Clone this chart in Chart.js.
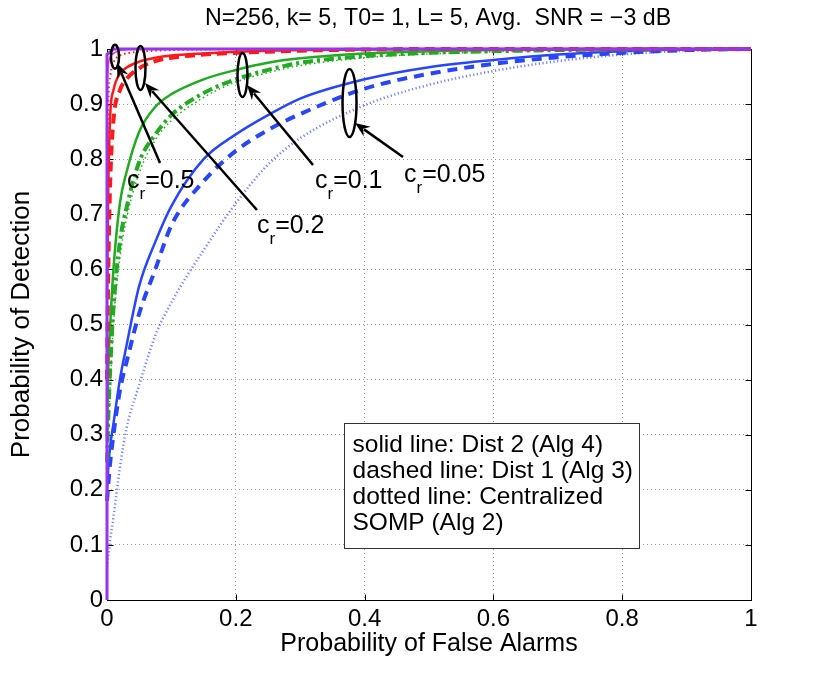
<!DOCTYPE html>
<html>
<head>
<meta charset="utf-8">
<script src="https://cdn.jsdelivr.net/npm/chart.js@4.4.0/dist/chart.umd.min.js"></script>
<style>
  html, body { margin: 0; padding: 0; background: #fff; }
  #wrap { width: 830px; height: 674px; position: relative; }
</style>
</head>
<body>
<div id="wrap"><canvas id="roc"></canvas></div>
<script>
// Eje comun de probabilidad de falsa alarma
const pfa = [0, 0.002, 0.005, 0.01, 0.02, 0.03, 0.05, 0.075, 0.1, 0.15, 0.2, 0.25, 0.3, 0.4, 0.5, 0.6, 0.7, 0.8, 0.9, 1];

// c_r = 0.05 (azul)
const pdBlueSolid  = [0.20, 0.24, 0.28, 0.32, 0.40, 0.46, 0.57, 0.65, 0.715, 0.80, 0.845, 0.88, 0.91, 0.945, 0.967, 0.98, 0.99, 0.996, 0.999, 1];
const pdBlueDashed = [0.18, 0.21, 0.25, 0.30, 0.38, 0.43, 0.52, 0.60, 0.68, 0.76, 0.815, 0.853, 0.882, 0.928, 0.955, 0.973, 0.985, 0.993, 0.998, 1];
const pdBlueDotted = [0.06, 0.08, 0.11, 0.15, 0.24, 0.31, 0.39, 0.48, 0.54, 0.635, 0.72, 0.79, 0.838, 0.898, 0.935, 0.96, 0.978, 0.99, 0.997, 1];

// c_r = 0.1 (verde)
const pdGreenSolid  = [0.30, 0.42, 0.50, 0.60, 0.72, 0.775, 0.85, 0.895, 0.918, 0.945, 0.962, 0.975, 0.983, 0.992, 0.996, 0.998, 0.999, 1, 1, 1];
const pdGreenDashed = [0.25, 0.33, 0.42, 0.53, 0.65, 0.71, 0.795, 0.845, 0.88, 0.92, 0.945, 0.962, 0.975, 0.987, 0.993, 0.996, 0.998, 0.999, 1, 1];
const pdGreenDotted = [0.22, 0.30, 0.39, 0.50, 0.62, 0.69, 0.775, 0.835, 0.87, 0.912, 0.94, 0.957, 0.97, 0.984, 0.991, 0.995, 0.998, 0.999, 1, 1];

// c_r = 0.2 (rojo)
const pdRedSolid  = [0.55, 0.75, 0.88, 0.925, 0.955, 0.966, 0.977, 0.984, 0.988, 0.992, 0.995, 0.997, 0.998, 0.999, 1, 1, 1, 1, 1, 1];
const pdRedDashed = [0.40, 0.60, 0.76, 0.87, 0.925, 0.945, 0.965, 0.978, 0.984, 0.99, 0.993, 0.995, 0.997, 0.999, 1, 1, 1, 1, 1, 1];
const pdRedDotted = [0.70, 0.90, 0.95, 0.975, 0.988, 0.992, 0.995, 0.997, 0.998, 0.999, 1, 1, 1, 1, 1, 1, 1, 1, 1, 1];

// c_r = 0.5 (magenta / violeta, casi sobre los ejes)
const pdMagenta = [0.93, 0.97, 0.985, 0.992, 0.997, 0.999, 1, 1, 1, 1, 1, 1, 1, 1, 1, 1, 1, 1, 1, 1];
const pfaPurple = [0, 0, 0.01, 1];
const pdPurple  = [0, 0.99, 1, 1];

// Textos
const titleText = "N=256, k= 5, T0= 1, L= 5, Avg.  SNR = \u22123 dB";
const xTitle = "Probability of False Alarms";
const yTitle = "Probability of Detection";
const legendLines = ["solid line: Dist 2 (Alg 4)", "dashed line: Dist 1 (Alg 3)", "dotted line: Centralized", "SOMP (Alg 2)"];

// Anotaciones c_r: elipse (centro en datos), flecha (cola -> punta) y etiqueta
const crLabels  = ["0.5", "0.2", "0.1", "0.05"];
const ellipseAt = [[0.0124, 0.986], [0.052, 0.9655], [0.2104, 0.9528], [0.3766, 0.902]];
const ellipseR  = [[4, 12], [5, 22], [5, 22], [7, 34]];
const arrowFrom = [[0.0823, 0.7931], [0.2329, 0.7078], [0.3199, 0.7895], [0.4596, 0.804]];
const arrowTo   = [[0.0155, 0.9746], [0.059, 0.9383], [0.2174, 0.9347], [0.3851, 0.8657]];
const labelAt   = [[0.031, 0.7477], [0.2329, 0.666], [0.323, 0.7477], [0.4612, 0.7586]];
const legendAt  = [0.368, 0.321];

const FONT = "'Liberation Sans', Arial, Helvetica, sans-serif";
Chart.defaults.font.family = FONT;
Chart.defaults.color = "#000";

const BLUE = "#2846ff", BLUE_LIGHT = "rgba(60,90,255,0.75)", GREEN = "#22aa22", RED = "#ff1a1a", MAGENTA = "#ff22cc", PURPLE = "#9933ee";

function serie(xs, ys, color, width, dash) {
    return {
        data: xs.map((x, i) => ({ x: x, y: ys[i] })),
        borderColor: color,
        borderWidth: width,
        borderDash: dash || [],
        pointRadius: 0,
        fill: false,
        clip: false,
        cubicInterpolationMode: "monotone"
    };
}

const datasets = [
    Object.assign(serie(pfaPurple, pdPurple, PURPLE, 3), { cubicInterpolationMode: "default", tension: 0 }),
    serie(pfa, pdMagenta, MAGENTA, 1.5),
    serie(pfa, pdRedSolid, RED, 2.5),
    serie(pfa, pdRedDashed, RED, 4, [10, 6]),
    serie(pfa, pdRedDotted, RED, 2, [1.5, 3]),
    serie(pfa, pdGreenSolid, GREEN, 2.5),
    serie(pfa, pdGreenDashed, GREEN, 4, [10, 4, 3, 4]),
    serie(pfa, pdGreenDotted, GREEN, 1.5, [1.5, 3]),
    serie(pfa, pdBlueSolid, BLUE, 2.5),
    serie(pfa, pdBlueDashed, BLUE, 4, [10, 7]),
    serie(pfa, pdBlueDotted, BLUE_LIGHT, 2.5, [1.2, 2.5])
];

// Marco tipo MATLAB con marcas hacia adentro, titulo y anotaciones
const frame = {
    id: "frame",
    beforeDatasetsDraw(chart) {
        const { ctx, chartArea: a, scales } = chart;
        const L = Math.round(a.left) + 0.5, R = Math.round(a.right) + 0.5;
        const T = Math.round(a.top) + 0.5, B = Math.round(a.bottom) + 0.5;
        ctx.save();
        ctx.strokeStyle = "#000";
        ctx.lineWidth = 1;
        ctx.strokeRect(L, T, R - L, B - T);
        ctx.beginPath();
        scales.x.ticks.forEach(t => {
            const px = Math.round(scales.x.getPixelForValue(t.value)) + 0.5;
            ctx.moveTo(px, B); ctx.lineTo(px, B - 6);
            ctx.moveTo(px, T); ctx.lineTo(px, T + 6);
        });
        scales.y.ticks.forEach(t => {
            const py = Math.round(scales.y.getPixelForValue(t.value)) + 0.5;
            ctx.moveTo(L, py); ctx.lineTo(L + 6, py);
            ctx.moveTo(R, py); ctx.lineTo(R - 6, py);
        });
        ctx.stroke();

        // Titulo sobre el area del grafico
        ctx.fillStyle = "#000";
        ctx.font = "23.2px " + FONT;
        ctx.textAlign = "center";
        ctx.textBaseline = "middle";
        ctx.fillText(titleText, (a.left + a.right) / 2 + 9, 19);
        ctx.restore();
    },
    afterDatasetsDraw(chart) {
        const { ctx, scales } = chart;
        const px = v => scales.x.getPixelForValue(v);
        const py = v => scales.y.getPixelForValue(v);
        ctx.save();
        ctx.strokeStyle = "#000";
        ctx.fillStyle = "#000";
        ctx.lineWidth = 2.5;

        crLabels.forEach((lab, i) => {
            // Elipse
            ctx.beginPath();
            ctx.ellipse(px(ellipseAt[i][0]), py(ellipseAt[i][1]), ellipseR[i][0], ellipseR[i][1], 0, 0, Math.PI * 2);
            ctx.stroke();

            // Flecha
            const x0 = px(arrowFrom[i][0]), y0 = py(arrowFrom[i][1]);
            const x1 = px(arrowTo[i][0]), y1 = py(arrowTo[i][1]);
            const ang = Math.atan2(y1 - y0, x1 - x0);
            const len = 15, half = 6;
            const bx = x1 - len * Math.cos(ang), by = y1 - len * Math.sin(ang);
            ctx.beginPath();
            ctx.moveTo(x0, y0); ctx.lineTo(bx + 4 * Math.cos(ang), by + 4 * Math.sin(ang));
            ctx.stroke();
            ctx.beginPath();
            ctx.moveTo(x1, y1);
            ctx.lineTo(bx + half * Math.sin(ang), by - half * Math.cos(ang));
            ctx.lineTo(bx + 5 * Math.cos(ang), by + 5 * Math.sin(ang));
            ctx.lineTo(bx - half * Math.sin(ang), by + half * Math.cos(ang));
            ctx.closePath();
            ctx.fill();

            // Etiqueta c_r=...
            let tx = px(labelAt[i][0]);
            const ty = py(labelAt[i][1]);
            ctx.textBaseline = "alphabetic";
            ctx.textAlign = "left";
            ctx.font = "25px " + FONT;
            ctx.fillText("c", tx, ty);
            tx += ctx.measureText("c").width;
            ctx.font = "17px " + FONT;
            ctx.fillText("r", tx, ty + 11);
            tx += ctx.measureText("r").width;
            ctx.font = "25px " + FONT;
            ctx.fillText("=" + lab, tx, ty);
        });

        // Cuadro de texto explicativo
        ctx.font = "24.5px " + FONT;
        ctx.textAlign = "left";
        ctx.textBaseline = "alphabetic";
        const bx = Math.round(px(legendAt[0])) + 0.5, by = Math.round(py(legendAt[1])) + 0.5;
        const w = Math.round(Math.max(...legendLines.map(t => ctx.measureText(t).width)) + 14);
        const h = legendLines.length * 26 + 21;
        ctx.fillStyle = "#fff";
        ctx.fillRect(bx, by, w, h);
        ctx.strokeStyle = "#333";
        ctx.lineWidth = 1;
        ctx.strokeRect(bx, by, w, h);
        ctx.fillStyle = "#000";
        legendLines.forEach((t, i) => ctx.fillText(t, bx + 8, by + 28 + i * 26));
        ctx.restore();
    }
};

const fmt = v => String(+v.toFixed(1));

new Chart(document.getElementById("roc").getContext("2d"), {
    type: "line",
    data: { datasets: datasets },
    options: {
        responsive: true,
        maintainAspectRatio: false,
        animation: false,
        layout: { padding: { top: 49, right: 79, bottom: 0, left: 0 } },
        plugins: {
            legend: { display: false },
            tooltip: { enabled: false },
            title: { display: false }
        },
        scales: {
            x: {
                type: "linear",
                min: 0, max: 1,
                ticks: { stepSize: 0.2, padding: 5, maxRotation: 0, font: { size: 24 }, color: "#000", callback: fmt },
                grid: { color: "#9a9a9a", lineWidth: 1, drawTicks: false },
                border: { display: false, dash: [1, 3] },
                title: { display: true, text: xTitle, color: "#000", font: { size: 25 }, padding: { top: 0, bottom: 15 } },
                afterFit(s) { s.height = 74; }
            },
            y: {
                type: "linear",
                min: 0, max: 1,
                ticks: { stepSize: 0.1, padding: 4, font: { size: 24 }, color: "#000", callback: fmt },
                grid: { color: "#9a9a9a", lineWidth: 1, drawTicks: false },
                border: { display: false, dash: [1, 3] },
                title: { display: true, text: yTitle, color: "#000", font: { size: 26 }, padding: { top: 6, bottom: 0 } },
                afterFit(s) { s.width = 107; }
            }
        }
    },
    plugins: [frame]
});
</script>
</body>
</html>
